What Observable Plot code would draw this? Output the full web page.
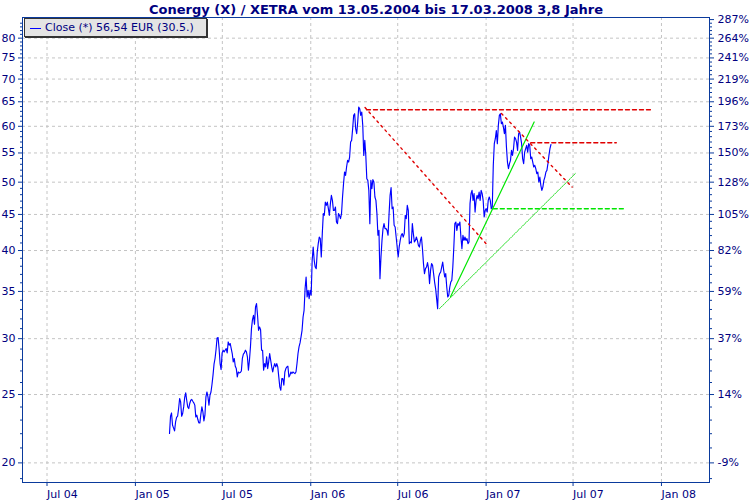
<!DOCTYPE html>
<html><head><meta charset="utf-8">
<script src="https://cdn.jsdelivr.net/npm/d3@7"></script>
<script src="https://cdn.jsdelivr.net/npm/@observablehq/plot@0.6"></script>
<style>
body{margin:0;background:#fff;}
#wrap{position:relative;width:750px;height:500px;font-family:"DejaVu Sans",Verdana,sans-serif;}
#legend{position:absolute;left:24px;top:18px;width:183px;height:19px;background:#e4e4e4;border:1px solid #333;box-shadow:1px 1px 0 #333;font-size:11px;color:#000080;line-height:17px;white-space:nowrap;box-sizing:border-box;}
#legend .sw{display:inline-block;width:11px;height:0;border-top:1px solid #0000ff;vertical-align:middle;margin:0 4px 0 5px;}
</style></head>
<body><div id="wrap"><div id="legend"><span class="sw"></span>Close (*) 56,54 EUR (30.5.)</div></div>
<script>
const titleText = "Conergy (X) / XETRA vom 13.05.2004 bis 17.03.2008 3,8 Jahre";
const firstDate = "2005-03-13";
const lastDate = "2007-05-16";
const closes = [
22.02,23.29,23.54,22.62,22.40,22.20,22.86,23.20,23.29,23.88,
24.68,24.41,23.29,23.50,24.01,24.76,25.13,24.54,24.01,23.88,
24.28,24.54,24.60,24.46,24.33,24.15,23.24,23.37,23.04,22.79,
22.79,23.45,24.01,23.62,22.94,23.37,24.81,25.21,24.81,24.15,
24.95,25.21,25.85,26.63,27.60,28.12,28.96,30.07,30.11,29.05,
27.66,27.12,28.64,28.89,28.73,28.89,29.05,28.64,29.68,29.37,
29.53,29.05,28.58,27.81,28.12,27.42,27.21,26.48,26.91,26.83,
26.86,27.00,28.12,28.52,28.64,28.89,28.73,28.27,27.06,27.96,
29.21,31.00,31.92,
32.38,31.44,33.27,33.64,32.38,30.83,31.17,30.90,28.89,28.89,
27.06,27.66,27.36,28.27,27.21,27.81,28.58,27.96,27.36,26.91,
27.36,27.66,27.36,27.66,27.36,26.48,25.63,25.35,26.34,26.34,
25.77,26.91,27.21,27.36,27.42,26.48,26.63,26.91,26.77,26.91,
26.83,26.77,26.91,27.66,28.58,29.21,29.59,30.17,30.83,32.20,
32.91,35.33,36.69,34.37,35.13,34.19,35.13,34.57,38.74,40.46,
38.74,37.90,37.70,39.80,40.91,41.80,41.58,39.16,42.27,45.12,
44.87,46.85,46.36,
46.85,45.86,44.87,46.61,47.89,47.11,45.60,45.60,46.10,43.90,
43.67,45.12,44.87,44.39,45.12,47.63,49.76,51.68,51.12,52.53,
53.68,53.39,54.27,56.99,57.30,59.52,62.18,62.52,59.52,58.57,
60.83,63.88,63.55,62.18,62.85,60.18,54.57,57.30,54.57,50.57,
50.29,48.67,43.67,50.29,48.95,50.41,50.02,47.63,47.11,45.12,
42.04,42.72,36.49,39.16,41.35,42.96,43.67,42.96,42.96,42.72,
42.04,45.12,47.89,49.11,45.85,46.10,43.43,43.19,41.80,40.46,
39.16,40.46,41.35,42.04,42.27,41.80,42.27,44.87,44.39,46.36,
45.60,40.91,41.13,41.00,43.67,42.27,41.13,41.35,41.80,41.35,
40.68,40.46,41.35,41.80,40.25,38.33,37.09,37.70,37.90,38.45,
37.70,35.91,37.49,38.33,38.12,37.09,36.09,35.33,34.19,33.09,
36.69,37.09,37.29,37.90,38.53,37.49,36.69,37.09,35.51,34.37,
34.57,35.51,36.09,36.29,37.90,40.46,43.67,43.90,42.72,43.67,
43.43,43.90,41.80,40.25,42.04,41.35,41.80,41.35,41.58,40.91,
41.13,46.61,48.16,48.67,47.11,48.16,45.35,47.11,47.89,47.37,
48.40,47.11,48.67,48.16,47.11,44.63,45.60,45.86,45.35,47.11,
47.63,47.11,45.86,46.10,52.82,56.69,57.62,59.19,56.69,60.18,
62.18,62.52,60.51,60.83,59.84,58.57,60.18,56.07,53.39,52.25,
53.11,53.68,55.46,54.57,55.77,57.93,57.62,56.99,55.46,58.57,
58.87,57.93,56.69,53.97,53.11,55.16,55.77,56.38,55.16,56.69,
56.38,53.97,54.27,53.39,52.53,52.82,52.25,51.41,51.68,50.02,
50.84,49.48,48.67,49.20,50.29,50.84,51.68,51.96,53.11,54.57,
55.77,56.54
];

// Axis ticks and labels
const xTickDates = ["2004-07-01","2005-01-01","2005-07-01","2006-01-01","2006-07-01","2007-01-01","2007-07-01","2008-01-01"];
const xTickLabels = ["Jul 04","Jan 05","Jul 05","Jan 06","Jul 06","Jan 07","Jul 07","Jan 08"];
const xDomain = ["2004-05-11","2008-04-10"];
const yDomain = [18.76, 85.58];
const leftTicks = [20,25,30,35,40,45,50,55,60,65,70,75,80];
const minorTicks = d3.range(19, 86).filter(v => v % 5 !== 0);
const rightTicks = [20,25,30,35,40,45,50,55,60,65,70,75,80,85];
const rightLabels = ["-9%","14%","37%","59%","82%","105%","128%","150%","173%","196%","219%","241%","264%","287%"];

// Trend annotations (date, price)
const redDiagonals = [
  [["2006-04-24",63.8],["2007-01-04",40.68]],
  [["2007-02-02",62.57],["2007-06-29",49.2]]
];
const redLevels = [
  [["2006-04-27",63.34],["2007-12-09",63.34]],
  [["2007-04-04",56.87],["2007-09-29",56.87]]
];
const greenLevels = [
  [["2007-01-16",45.85],["2007-10-18",45.85]]
];
const greenSteep = [
  [["2006-10-19",34.39],["2007-04-11",60.86]]
];
const greenLow = [
  [["2006-09-26",33.09],["2007-07-06",51.45]]
];

const t0 = new Date(firstDate), t1 = new Date(lastDate);
const series = closes.map((v, i) => ({date: new Date(+t0 + (t1 - t0) * i / (closes.length - 1)), close: v}));
const seg = (arr) => arr.flatMap((s, k) => s.map(([d, v]) => ({date: new Date(d), v, k})));
const xLabelMap = new Map(xTickDates.map((d, i) => [+new Date(d), xTickLabels[i]]));
const rLabelMap = new Map(rightTicks.map((v, i) => [v, rightLabels[i]]));
const navy = "#000080", axisBlue = "#0a3a9c";

const chart = Plot.plot({
  width: 750, height: 500,
  marginLeft: 22, marginRight: 41, marginTop: 17, marginBottom: 18,
  style: {fontFamily: "DejaVu Sans, Verdana, sans-serif", fontSize: "11px", background: "#fff"},
  x: {type: "utc", domain: xDomain.map(d => new Date(d))},
  y: {type: "log", domain: yDomain},
  marks: [
    Plot.gridX(xTickDates.map(d => new Date(d)), {stroke: "#c4c4c4", strokeOpacity: 1, strokeDasharray: "3,3"}),
    Plot.gridY(leftTicks, {stroke: "#c4c4c4", strokeOpacity: 1, strokeDasharray: "3,3"}),
    Plot.line(series, {x: "date", y: "close", stroke: "#0000ff", strokeWidth: 1.15}),
    Plot.line(seg(greenSteep), {x: "date", y: "v", z: "k", stroke: "#00e600", strokeWidth: 1.2}),
    Plot.line(seg(greenLow), {x: "date", y: "v", z: "k", stroke: "#22dd22", strokeWidth: 1, strokeDasharray: "1.5,1"}),
    Plot.line(seg(greenLevels), {x: "date", y: "v", z: "k", stroke: "#00e600", strokeWidth: 1.4, strokeDasharray: "4,3"}),
    Plot.line(seg(redDiagonals), {x: "date", y: "v", z: "k", stroke: "#e00000", strokeWidth: 1.4, strokeDasharray: "2,4"}),
    Plot.line(seg(redLevels), {x: "date", y: "v", z: "k", stroke: "#e00000", strokeWidth: 1.4, strokeDasharray: "4,3"}),
    Plot.axisY(minorTicks, {anchor: "left", tickSize: 2, tickFormat: () => "", label: null, stroke: axisBlue}),
    Plot.axisY(leftTicks, {anchor: "left", tickSize: 4, tickPadding: 3, label: null, stroke: axisBlue, fill: navy}),
    Plot.axisY(minorTicks, {anchor: "right", tickSize: 2, tickFormat: () => "", label: null, stroke: axisBlue}),
    Plot.axisY(rightTicks, {anchor: "right", tickSize: 4, tickPadding: 4, label: null, stroke: axisBlue, fill: navy, tickFormat: v => rLabelMap.get(v)}),
    Plot.axisX(xTickDates.map(d => new Date(d)), {anchor: "bottom", tickSize: 4, tickPadding: 4, label: null, stroke: axisBlue, fill: navy, textAnchor: "start", tickFormat: d => xLabelMap.get(+d)}),
    Plot.frame({stroke: axisBlue}),
    Plot.text([titleText], {frameAnchor: "top", lineAnchor: "middle", dx: 10, dy: -8, text: d => d, fontWeight: "bold", fontSize: 13, fill: navy})
  ]
});
const wrap = document.getElementById("wrap");
wrap.insertBefore(chart, wrap.firstChild);
</script>
</body></html>
